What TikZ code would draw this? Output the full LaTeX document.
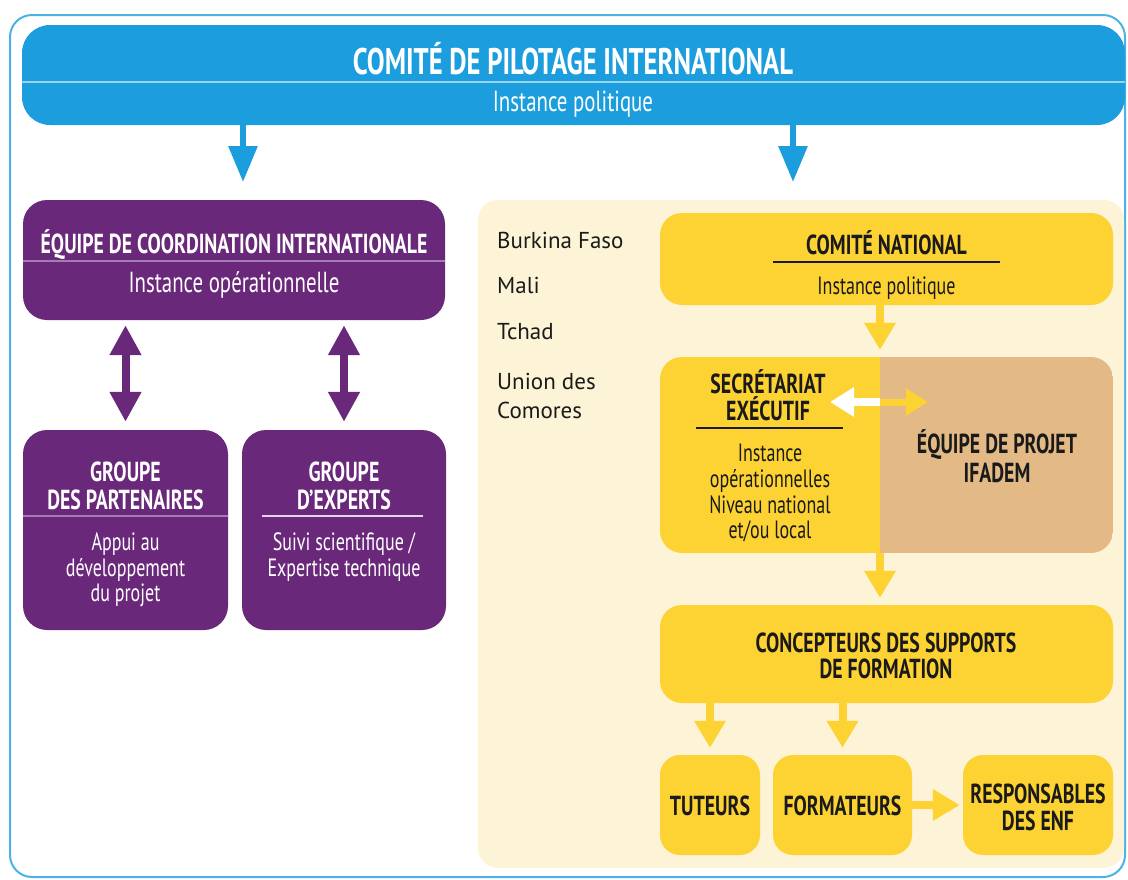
\documentclass[tikz,border=0pt]{standalone}
\usepackage{fontspec}
\setmainfont[FakeStretch=0.72]{PT Sans}
\newfontfamily\plainfont{PT Sans}
\usetikzlibrary{arrows.meta}
\definecolor{cblue}{HTML}{1B9DDE}
\definecolor{cframe}{HTML}{4BB3E4}
\definecolor{cpurple}{HTML}{6A287B}
\definecolor{cpline}{HTML}{A57BB3}
\definecolor{cyellow}{HTML}{FDD333}
\definecolor{ctan}{HTML}{E3B985}
\definecolor{ccream}{HTML}{FDF3D6}
\definecolor{cdark}{HTML}{1A1A1A}
\begin{document}
\begin{tikzpicture}[x=1pt,y=-1pt,
  box/.style={rounded corners=24pt, inner sep=0pt, draw=none},
  txt/.style={inner sep=0pt, anchor=base, align=center},
  ttlw/.style={txt, text=white, font=\fontsize{27.5}{30}\selectfont\bfseries},
  ttlb/.style={txt, text=cdark, font=\fontsize{27.5}{30}\selectfont\bfseries},
  bodyw/.style={txt, text=white, font=\fontsize{25}{28}\selectfont},
  bodyb/.style={txt, text=cdark, font=\fontsize{25}{28}\selectfont},
  ctry/.style={inner sep=0pt, anchor=base west, text=cdark, font=\plainfont\fontsize{23}{26}\selectfont},
  barrow/.style={draw=cblue, line width=6pt, -{Triangle[length=36pt,width=28pt]}},
  parrow/.style={draw=cpurple, line width=8pt, {Triangle[length=30pt,width=30pt]}-{Triangle[length=30pt,width=30pt]}, shorten <=5pt, shorten >=8pt},
  yarrow/.style={draw=cyellow, line width=8pt, -{Triangle[length=27pt,width=30pt]}},
  warrow/.style={draw=white, line width=8pt, -{Triangle[length=24pt,width=28pt]}},
  yarrow2/.style={draw=cyellow, line width=7pt, -{Triangle[length=22pt,width=26pt]}},
]
\useasboundingbox (0,0) rectangle (1128,879);
% outer frame
\draw[cframe, line width=2pt, rounded corners=22pt] (10,15) rectangle (1125,877);
% cream panel
\fill[ccream, rounded corners=20pt] (478,200) rectangle (1124,868);

% top bar
\node[box, fill=cblue, minimum width=1103pt, minimum height=100pt, rounded corners=28pt] (cpi) at (573.5,75) {};
\draw[white!55!cblue, line width=1.5pt] (cpi.west |- 0,82) -- (cpi.east |- 0,82);
\node[txt, text=white, font=\fontsize{37}{40}\selectfont\bfseries] (cpit) at (573,74) {COMITÉ DE PILOTAGE INTERNATIONAL};
\node[bodyw, font=\fontsize{29}{32}\selectfont] (cpis) at (573,111) {Instance politique};

% blue arrows
\coordinate (aL) at (243,182);
\coordinate (aR) at (793,182);
\draw[barrow] (cpi.south -| aL) -- (aL);
\draw[barrow] (cpi.south -| aR) -- (aR);

% purple boxes
\node[box, fill=cpurple, minimum width=422pt, minimum height=120pt] (eci) at (234,260) {};
\draw[cpline, line width=1.3pt] (eci.west |- 0,261) -- (eci.east |- 0,261);
\node[ttlw] (ecit) at (234,253) {ÉQUIPE DE COORDINATION INTERNATIONALE};
\node[bodyw, font=\fontsize{29}{32}\selectfont] (ecis) at (234,292) {Instance opérationnelle};

\node[box, fill=cpurple, minimum width=205pt, minimum height=200pt] (gp) at (125.5,530) {};
\draw[cpline, line width=1.3pt] (gp.west |- 0,516) -- (gp.east |- 0,516);
\node[ttlw] (gpt1) at (125.5,481) {GROUPE};
\node[ttlw] (gpt2) at (125.5,509) {DES PARTENAIRES};
\node[bodyw] (gps1) at (125.5,550) {Appui au};
\node[bodyw] (gps2) at (125.5,576) {développement};
\node[bodyw] (gps3) at (125.5,601) {du projet};

\node[box, fill=cpurple, minimum width=204pt, minimum height=200pt] (ge) at (344,530) {};
\draw[white!80!cpurple, line width=1.3pt] (262,516) -- (423,516);
\node[ttlw] (get1) at (344,481) {GROUPE};
\node[ttlw] (get2) at (344,509) {D’EXPERTS};
\node[bodyw] (ges1) at (344,550) {Suivi scientifique /};
\node[bodyw] (ges2) at (344,576) {Expertise technique};

\draw[parrow] (eci.south -| gp.north) -- (gp.north);
\draw[parrow] (eci.south -| ge.north) -- (ge.north);

% countries
\node[ctry] (c1) at (497,248) {Burkina Faso};
\node[ctry] (c2) at (497,293) {Mali};
\node[ctry] (c3) at (497,339) {Tchad};
\node[ctry] (c4) at (497,389) {Union des};
\node[ctry] (c5) at (497,418) {Comores};

% comité national
\node[box, fill=cyellow, minimum width=453pt, minimum height=92pt, rounded corners=22pt] (cn) at (886.5,259) {};
\draw[cdark, line width=1.2pt] (773,262) -- (1000,262);
\node[ttlb] (cnt) at (886.5,254) {COMITÉ NATIONAL};
\node[bodyb] (cns) at (886.5,294) {Instance politique};

% split box
\coordinate (split) at (880,0);
\begin{scope}
  \clip[rounded corners=22pt] (660,357) rectangle (1113,553);
  \fill[cyellow] (660,357) rectangle (880,553);
  \fill[ctan] (880,357) rectangle (1113,553);
\end{scope}
\node[inner sep=0pt, minimum width=220pt, minimum height=196pt] (sec) at (770,455) {};
\node[inner sep=0pt, minimum width=233pt, minimum height=196pt] (eqp) at (996.5,455) {};
\draw[cdark, line width=1.2pt] (696,428) -- (843,428);
\node[ttlb] (sect1) at (768,393) {SECRÉTARIAT};
\node[ttlb] (sect2) at (768,420) {EXÉCUTIF};
\node[bodyb] (secs1) at (770,461) {Instance};
\node[bodyb] (secs2) at (770,487) {opérationnelles};
\node[bodyb] (secs3) at (770,513) {Niveau national};
\node[bodyb] (secs4) at (770,538) {et/ou local};
\node[ttlb] (eqpt1) at (997,453) {ÉQUIPE DE PROJET};
\node[ttlb] (eqpt2) at (997,482) {IFADEM};
\coordinate (mid) at (880,402);
\coordinate (wtip) at (830,402);
\coordinate (ytip) at (928,402);
\draw[warrow] (mid) -- (wtip);
\draw[yarrow2] (mid) -- (ytip);

\draw[yarrow, shorten >=7pt] (cn.south -| split) -- (sec.north -| split);

% concepteurs
\node[box, fill=cyellow, minimum width=453pt, minimum height=98pt, rounded corners=22pt] (conc) at (886.5,654) {};
\node[ttlb] (conct1) at (886,652) {CONCEPTEURS DES SUPPORTS};
\node[ttlb] (conct2) at (886,678) {DE FORMATION};
\draw[yarrow, shorten >=7pt] (sec.south -| split) -- (conc.north -| split);

% bottom row
\node[box, fill=cyellow, minimum width=100pt, minimum height=100pt, rounded corners=20pt] (tut) at (710,805) {};
\node[box, fill=cyellow, minimum width=139pt, minimum height=100pt, rounded corners=20pt] (form) at (842.5,805) {};
\node[box, fill=cyellow, minimum width=150pt, minimum height=100pt, rounded corners=20pt] (resp) at (1038,805) {};
\node[ttlb] (tutt) at (710,815) {TUTEURS};
\node[ttlb] (formt) at (842.5,815) {FORMATEURS};
\node[ttlb] (respt1) at (1038,803) {RESPONSABLES};
\node[ttlb] (respt2) at (1038,830) {DES ENF};

\draw[yarrow, shorten >=7pt] (conc.south -| tut.north) -- (tut.north);
\draw[yarrow, shorten >=7pt] (conc.south -| form.north) -- (form.north);
\draw[yarrow, shorten >=3pt] (form.east) -- (resp.west);
\end{tikzpicture}
\end{document}
